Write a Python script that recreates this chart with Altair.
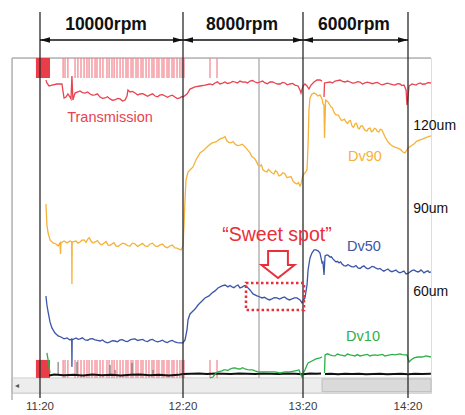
import altair as alt
import pandas as pd

# ---------------- axes / annotation values ----------------
TICK_T = [20, 80, 140, 200]                 # minutes after 11:00 -> 11:20 ... 14:20
TICK_LABELS = ["11:20", "12:20", "13:20", "14:20"]
X_DOMAIN = [8.25, 20, 80, 140, 200, 213.14]  # the recorder's time axis is not uniform
X_RANGE = [0, 28, 171, 291, 396, 419]
Y_DOMAIN = [24.7, 150.35]
GRID_UM = [60, 90, 120]
GRAY_GRID_T = [118]

RPM_LABELS = ["10000rpm", "8000rpm", "6000rpm"]
RPM_START = [20, 80, 140]
RPM_END = [80, 140, 200]
RPM_MID = [47.7, 109.5, 169.1]

SIZE_LABELS = ["120um", "90um", "60um"]
SIZE_LABEL_V = [125.0, 93.8, 62.4]

SERIES_NAMES = ["Transmission", "Dv90", "Dv50", "Dv10"]
SERIES_COLORS = ["#E8434F", "#F5B23A", "#3B55A8", "#2DB04A"]
SERIES_LABEL_T = [49.4, 175.4, 174.8, 174.3]
SERIES_LABEL_V = [127.85, 113.2, 79.5, 45.7]

# ---------------- series (t = minutes after 11:00, v = chart units / um) ----------------
trans_seg0 = [(22.5,142.1),(22.9,141.0),(23.8,139.85),(25.0,140.2),(27.1,140.6),(29.2,140.6),(29.7,137.6),
    (30.1,135.35),(30.9,135.7),(31.7,136.85),(32.6,135.7),(33.0,135.0),(33.4,143.6),(33.8,134.6),(34.7,137.2),
    (36.8,138.0),(38.9,137.2),(41.0,136.85),(43.1,136.5),(45.2,135.7),(47.3,135.35),(49.4,135.0),(51.5,134.6),
    (53.6,135.0),(55.7,134.6),(56.5,136.1),(56.9,138.35),(57.8,137.6),(59.9,137.2),(62.0,136.85),(64.1,136.5),
    (66.2,136.5),(68.3,136.1),(70.4,136.5),(72.5,136.1),(74.5,136.1),(76.6,135.7),(78.7,135.35),(80.0,135.7),
    (82.0,136.85),(83.5,138.7),(86.0,139.5),(88.5,139.85),(91.0,140.2),(93.5,140.6),(96.0,140.98),(98.5,140.6),
    (101.0,141.35),(103.5,140.98),(106.0,141.35),(108.5,141.7),(111.0,141.35),(113.5,141.7),(116.0,141.35),
    (118.5,141.35),(121.0,140.98),(123.5,141.35),(126.0,140.98),(128.5,140.6),(131.0,140.98),(133.5,140.6),
    (136.0,140.2),(137.5,139.85),(138.5,138.35),(139.0,137.2),(140.0,139.85),(141.1,140.6),(142.3,139.85),
    (143.4,138.7),(144.6,140.2),(146.3,141.35),(148.0,142.1),(149.7,142.1),(150.9,141.7),
    (37.8,137.4),(40.0,137.6),(42.0,136.4),(44.1,136.9),(46.2,135.2),(48.3,135.8),(50.4,134.5),(52.5,135.2),
    (54.6,134.2),(58.8,137.8),(61.0,136.5),(63.1,137.0),(65.1,136.0),(67.2,136.9),(69.3,135.8),(71.4,136.6),
    (73.5,135.6),(75.5,136.4),(77.6,135.1),(79.4,135.9),(94.8,140.3),(97.2,141.4),(99.8,140.9),(102.2,140.8),
    (104.8,141.6),(107.2,141.0),(109.8,141.3),(112.2,141.0),(114.8,141.9),(117.2,141.0),(119.8,141.7),
    (122.2,140.7),(124.8,141.4),(127.2,140.6),(129.8,141.2),(132.2,140.3),(134.8,140.8)]
trans_seg1 = [(152.0,135.7),(152.3,141.0),(155.4,141.35),(158.3,141.7),(161.1,142.1),(164.0,141.35),
    (166.9,141.35),(169.7,140.98),(172.6,141.35),(175.4,140.98),(178.3,140.98),(181.1,140.98),(184.0,140.6),
    (186.9,140.6),(189.7,140.6),(192.6,140.2),(195.4,140.6),(197.7,140.2),(198.9,138.35),(199.4,132.7),
    (200.0,135.7),(200.6,139.85),(202.3,140.6),(204.6,140.2),(206.9,140.98),(209.7,140.6),(213.1,140.98),
    (156.8,141.0),(159.7,141.9),(162.5,141.6),(165.4,141.7),(168.3,140.9),(171.1,141.5),(174.0,140.6),
    (176.8,141.3),(179.7,140.7),(182.5,141.2),(185.4,140.3),(188.3,140.9),(191.1,140.4),(194.0,140.7),
    (196.5,140.0),(205.7,140.7),(208.3,140.5),(211.4,141.1)]

dv90 = [(22.5,95.6),(22.9,87.7),(23.4,84.7),(24.2,82.1),(25.5,81.0),(26.7,80.6),(27.6,79.85),(28.4,81.0),
    (28.6,76.85),(28.8,81.0),(30.1,81.7),(31.3,81.0),(32.6,81.7),(33.3,81.35),(33.4,65.6),(33.5,81.35),
    (35.1,81.7),(36.8,81.35),(38.5,82.1),(40.1,82.5),(41.4,81.7),(43.1,81.35),(45.2,80.6),(46.9,81.0),
    (48.5,80.25),(50.2,80.6),(51.9,79.85),(53.6,80.25),(55.7,80.6),(57.8,79.85),(59.9,80.6),(62.0,80.25),
    (64.1,79.85),(66.2,80.6),(68.3,79.85),(70.4,80.25),(72.5,79.5),(74.5,79.85),(76.6,79.1),(78.3,78.7),
    (79.2,78.35),(80.0,79.85),(80.5,87.7),(81.0,97.1),(81.5,104.6),(82.5,107.6),(83.5,108.35),(85.0,109.5),
    (86.5,112.1),(88.5,114.75),(90.5,115.85),(92.5,117.35),(94.5,118.5),(96.5,118.85),(98.5,120.0),
    (100.0,120.35),(102.0,119.2),(104.0,118.5),(106.0,118.1),(108.5,117.7),(111.0,117.0),(113.5,114.75),
    (115.5,112.85),(117.0,111.0),(118.5,109.85),(120.0,108.35),(122.0,107.6),(123.5,108.0),(125.5,106.85),
    (127.0,107.6),(129.0,106.5),(131.0,106.85),(133.0,105.7),(135.0,104.2),(137.0,103.1),(138.5,102.35),
    (139.0,103.1),(140.0,106.5),(141.1,107.2),(142.3,108.35),(142.9,117.7),(143.4,130.85),(144.0,135.35),
    (145.1,136.85),(146.3,137.2),(147.4,136.85),(148.6,136.1),(149.7,136.5),(150.9,135.0),(151.4,133.1),
    (152.0,132.7),(152.3,120.35),(152.9,134.6),(154.3,133.85),(156.0,132.0),(157.7,130.1),(159.4,129.0),
    (161.1,127.85),(162.9,127.1),(164.6,126.35),(166.3,126.7),(168.0,124.85),(169.7,125.6),(171.4,124.1),
    (173.1,124.85),(174.9,123.7),(176.6,123.0),(178.3,124.1),(180.0,123.0),(181.7,123.7),(183.4,122.6),
    (185.1,123.35),(186.9,120.7),(188.6,118.85),(190.3,117.7),(192.0,117.0),(193.7,116.6),(195.4,116.2),
    (197.1,115.1),(198.3,114.75),(200.0,116.6),(201.7,117.35),(203.4,118.1),(205.1,119.2),(206.9,119.6),
    (208.6,120.0),(210.9,120.7),(213.1,121.1),
    (35.9,80.9),(37.6,82.0),(39.3,81.2),(40.7,82.9),(42.2,81.0),(44.1,81.9),(46.0,80.3),(47.7,81.5),
    (49.3,80.0),(51.0,81.1),(52.7,79.6),(54.6,80.9),(56.7,80.0),(58.8,80.9),(60.9,79.7),(63.0,80.8),
    (65.1,79.6),(67.2,80.9),(69.3,79.6),(71.4,80.6),(73.5,79.2),(75.5,80.2),(77.5,79.0),
    (101.0,120.9),(103.0,118.7),(105.0,119.0),(107.2,117.5),(109.7,118.0),(112.2,116.0),(114.5,113.3),
    (116.2,112.2),(117.7,110.0),(119.2,110.3),(121.0,107.9),(122.7,108.6),(124.5,107.2),(126.2,108.1),
    (128.0,106.1),(130.0,107.4),(132.0,105.5),(134.0,105.9),(136.0,103.5),(137.7,103.6),
    (155.1,133.0),(156.8,131.6),(158.5,129.2),(160.2,128.9),(162.0,126.9),(163.7,127.4),(165.5,125.8),
    (167.1,126.9),(168.8,124.3),(170.5,125.9),(172.2,123.8),(174.0,124.9),(175.7,123.1),(177.4,123.9),
    (179.1,122.7),(180.8,124.0),(182.5,122.8),(184.2,123.6)]

dv50 = [(22.5,61.1),(22.9,57.7),(23.4,55.1),(24.2,51.35),(25.0,49.1),(26.3,47.2),(27.6,46.1),(28.8,45.7),
    (30.1,45.0),(31.3,45.35),(32.6,44.6),(33.3,45.0),(33.4,34.5),(33.5,44.6),(35.1,45.35),(36.8,45.0),
    (38.9,44.6),(41.0,45.0),(43.1,44.6),(45.2,44.2),(47.3,43.85),(49.4,43.85),(51.5,44.2),(53.6,44.6),
    (55.7,44.2),(57.8,44.6),(59.9,45.0),(62.0,44.6),(64.1,44.2),(66.2,44.6),(68.3,44.2),(70.4,44.2),
    (72.5,43.85),(74.5,44.2),(76.6,43.85),(78.7,43.5),(80.0,43.5),(81.0,44.6),(82.0,48.35),(82.5,52.1),
    (83.5,54.35),(84.5,55.1),(86.0,56.2),(87.5,57.7),(89.0,58.85),(91.0,60.35),(93.0,61.1),(94.5,62.2),
    (96.0,63.0),(97.5,64.1),(99.5,64.85),(101.0,65.2),(102.5,64.5),(104.5,64.5),(106.5,64.85),(108.5,64.1),
    (110.5,64.85),(112.0,64.5),(113.5,63.35),(115.0,61.85),(117.0,61.1),(119.5,60.35),(122.0,60.0),
    (124.5,60.0),(127.0,60.35),(129.5,60.35),(132.0,60.0),(134.5,60.0),(137.0,60.35),(138.5,59.6),
    (139.5,58.5),(140.0,59.2),(141.1,60.35),(142.3,65.2),(142.9,70.85),(144.0,75.35),(145.1,77.2),
    (146.3,78.35),(147.4,78.35),(148.6,78.0),(149.7,77.2),(150.3,75.35),(150.9,73.5),(151.4,73.85),
    (152.0,69.0),(152.6,76.1),(153.7,76.5),(155.4,75.7),(157.1,75.0),(158.9,73.85),(160.6,73.5),
    (162.3,73.1),(164.6,72.35),(166.9,72.35),(169.1,72.0),(171.4,71.6),(173.7,72.0),(176.0,71.6),
    (178.3,71.6),(180.6,72.0),(182.9,71.2),(185.1,70.85),(187.4,70.85),(189.7,70.5),(192.0,70.5),
    (194.3,70.1),(196.6,70.1),(198.9,69.35),(201.1,70.1),(203.4,70.85),(205.7,70.1),(207.4,70.85),
    (209.1,69.75),(211.4,70.5),(213.1,70.1),
    (36.0,44.8),(37.8,45.4),(40.0,44.5),(42.0,45.1),(44.1,44.4),(46.2,44.6),(48.3,43.5),(50.4,44.3),
    (52.5,43.9),(54.6,44.7),(56.7,44.0),(58.8,44.9),(61.0,44.4),(63.1,44.8),(65.1,44.0),(67.2,44.8),
    (69.3,43.9),(71.4,44.5),(73.5,43.6),(75.5,44.4),(77.6,43.6),
    (103.5,65.0),(105.5,64.2),(107.5,65.2),(109.5,64.4),(111.2,65.0),(118.2,60.8),(120.7,60.6),
    (123.2,59.6),(125.7,60.5),(128.2,59.9),(130.7,60.7),(133.2,59.6),(135.7,60.4),
    (154.5,76.3),(156.2,75.8),(158.0,74.4),(159.7,74.1),(161.5,73.9),(163.4,72.5),(165.7,72.9),
    (168.0,72.0),(170.3,72.5),(172.6,71.4),(174.8,72.4),(177.1,71.3),(179.4,72.2),(181.7,71.5),
    (184.0,71.4),(186.2,70.4),(188.5,71.2),(190.8,70.2),(193.1,70.8),(195.4,69.8),(197.7,70.4),
    (200.0,69.6),(202.2,70.6),(204.5,70.4),(206.5,70.3),(208.2,70.4),(210.2,70.2),(212.2,69.9)]

dv10_seg0 = [(22.9,39.75),(23.4,37.1),(24.2,32.2)]
dv10_seg1 = [(93.5,30.35),(95.0,30.7),(96.5,32.2),(97.5,32.6),(99.5,33.0),(101.5,33.35),(103.5,33.7),
    (106.0,34.1),(108.5,33.7),(111.0,33.7),(113.5,33.35),(116.0,33.0),(118.5,32.6),(121.0,32.6),
    (123.5,32.6),(126.0,32.6),(128.5,32.2),(131.0,32.6),(133.5,32.6),(136.0,33.0),(138.0,33.35),
    (139.0,31.5),(139.5,30.7),(140.0,31.85),(141.1,33.35),(142.3,35.2),(142.9,35.95),(145.1,36.7),
    (147.4,37.5),(149.7,37.85),(150.9,38.2),
    (100.5,33.4),(102.5,33.1),(104.8,34.0),(107.2,33.8),(109.8,34.2),(112.2,33.5),(114.8,33.4),(117.2,32.7)]
dv10_seg2 = [(152.3,32.2),(152.6,39.0),(155.4,39.0),(158.3,38.6),(161.1,39.0),(164.0,38.6),(166.9,39.0),
    (169.7,38.6),(172.6,38.6),(175.4,39.0),(178.3,38.6),(181.1,39.0),(184.0,39.0),(186.9,38.6),(189.7,39.0),
    (192.6,39.0),(195.4,39.35),(198.3,39.0),(199.4,39.0),(200.6,36.35),(201.7,37.1),(203.4,37.85),
    (205.7,38.2),(208.0,38.2),(210.3,38.6),(213.1,38.2),
    (154.0,39.4),(156.8,38.7),(159.7,39.3),(162.5,38.8),(165.4,39.3),(168.3,38.8),(171.1,39.1),(174.0,38.8),
    (176.8,39.2),(179.7,38.9),(182.5,38.8),(185.4,39.2),(188.3,38.8),(191.1,39.2),(194.0,39.2),(196.8,39.1)]

base_seg0 = [(23.8,31.3),(26,31.6),(30,31.4),(34,31.5),(38,31.3),(42,31.6),(46,31.4),(50,31.5),(54,31.3),
    (58,31.5),(62,31.6),(66,31.4),(70,31.5),(74,31.3),(78,31.5),(80,31.8),(84,31.9),(88,32.0),(92,31.8),
    (96,32.0),(100,31.9),(104,31.8),(108,32.0),(112,31.9),(116,31.8),(120,32.0),(124,31.9),(128,31.8),
    (132,32.0),(136,31.9),(140,31.7),(144,32.0),(148,31.9),(150.3,32.0)]
base_seg1 = [(152.6,31.8),(156,31.9),(160,31.7),(164,31.9),(168,31.8),(172,31.9),(176,31.7),(180,31.8),
    (184,31.9),(188,31.7),(192,31.8),(196,31.9),(200,31.7),(204,31.9),(208,31.8),(213.1,31.9)]
base_spike_t = [27.6, 35.5, 49.4, 51.5, 58.6, 67.4]
base_spike_top = [36.35, 36.35, 35.2, 33.35, 36.0, 33.35]

event_t = [29.7, 30.5, 31.7, 34.7, 35.9, 37.2, 38.5, 39.7, 40.6, 41.8, 43.1, 43.9, 45.2, 46.4, 48.1, 49.0,
    50.2, 51.1, 52.3, 53.6, 54.8, 56.1, 56.9, 58.2, 59.0, 60.3, 61.1, 62.4, 63.2, 64.5, 65.7, 67.0, 67.8,
    69.1, 69.9, 71.2, 72.0, 73.3, 74.1, 75.4, 76.2, 77.5, 78.7, 79.6, 80.5, 93.5, 97.0]
event_block = (18.3, 24.2)


def frame(segs):
    rows = []
    i = 0
    for s, seg in enumerate(segs):
        for t, v in sorted(seg):
            rows.append({"t": t, "v": v, "seg": s, "i": i})
            i += 1
    return pd.DataFrame(rows)


xs = alt.Scale(domain=X_DOMAIN, range=X_RANGE)
ys = alt.Scale(domain=Y_DOMAIN, nice=False, zero=False)
FONT = "Liberation Sans"


def X(field="t", axis=None):
    return alt.X(f"{field}:Q", scale=xs, axis=axis)


def Y(field="v", axis=None):
    return alt.Y(f"{field}:Q", scale=ys, axis=axis)


def YD(val):
    return alt.Y(datum=val, scale=ys)


y_axis = alt.Axis(values=GRID_UM, grid=True, gridColor="#b5b5b5", gridWidth=1.5, labels=False,
                  ticks=False, domain=False, title=None)

layers = []

# scrollbar
sb = pd.DataFrame({"t1": [X_DOMAIN[0]], "t2": [X_DOMAIN[-1]], "v1": [Y_DOMAIN[0]], "v2": [30.35]})
layers.append(alt.Chart(sb).mark_rect(fill="#ededed", stroke="#cfcfcf", strokeWidth=1).encode(
    x=X("t1"), x2="t2:Q", y=Y("v1", axis=y_axis), y2="v2:Q"))
thumb = pd.DataFrame({"t1": [150.9], "t2": [213.14], "v1": [25.2], "v2": [30.0]})
layers.append(alt.Chart(thumb).mark_rect(fill="#dadada", stroke="#bdbdbd", strokeWidth=1).encode(
    x=X("t1"), x2="t2:Q", y=Y("v1"), y2="v2:Q"))
layers.append(alt.Chart(pd.DataFrame({"t": [10.3], "v": [27.5], "s": ["◂"]})).mark_text(
    fontSize=8, color="#555").encode(x=X(), y=Y(), text="s:N"))

# frame top & left
layers.append(alt.Chart(pd.DataFrame({"t1": [X_DOMAIN[0]], "t2": [X_DOMAIN[-1]], "v": [Y_DOMAIN[1]]}))
              .mark_rule(color="#b5b5b5", strokeWidth=1.5).encode(x=X("t1"), x2="t2:Q", y=Y()))
layers.append(alt.Chart(pd.DataFrame({"t": [X_DOMAIN[0]], "v1": [Y_DOMAIN[1]], "v2": [22.1]}))
              .mark_rule(color="#b5b5b5", strokeWidth=1.5).encode(x=X(), y=Y("v1"), y2="v2:Q"))

# light vertical grid line
layers.append(alt.Chart(pd.DataFrame({"t": GRAY_GRID_T})).mark_rule(color="#b5b5b5", strokeWidth=1.5)
              .encode(x=X(), y=YD(Y_DOMAIN[1]), y2=alt.Y2(datum=30.35)))

# event bars (top and bottom)
ev = pd.DataFrame({"t": event_t})
for top, bot in [(150.35, 142.85), (37.1, 30.35)]:
    layers.append(alt.Chart(ev).mark_rule(color="#F28A93", strokeWidth=1.5, opacity=0.85)
                  .encode(x=X(), y=YD(top), y2=alt.Y2(datum=bot)))
    layers.append(alt.Chart(pd.DataFrame({"t1": [event_block[0]], "t2": [event_block[1]]}))
                  .mark_rect(color="#E8343F", opacity=0.95)
                  .encode(x=X("t1"), x2="t2:Q", y=YD(top), y2=alt.Y2(datum=bot)))

# baseline (black) and its spikes
layers.append(alt.Chart(pd.DataFrame({"t": base_spike_t, "top": base_spike_top}))
              .mark_rule(color="#666", strokeWidth=1).encode(x=X(), y=Y("top"), y2=alt.Y2(datum=31.5)))
layers.append(alt.Chart(frame([base_seg0, base_seg1])).mark_line(color="#111", strokeWidth=2)
              .encode(x=X(), y=Y(), detail="seg:N", order="i:Q"))


def line(df, color, w=1.3):
    return alt.Chart(df).mark_line(color=color, strokeWidth=w).encode(
        x=X(), y=Y(), detail="seg:N", order="i:Q")


layers.append(line(frame([trans_seg0, trans_seg1]), SERIES_COLORS[0]))
layers.append(line(frame([dv90]), SERIES_COLORS[1]))
layers.append(line(frame([dv50]), SERIES_COLORS[2]))
layers.append(line(frame([dv10_seg0, dv10_seg1, dv10_seg2]), SERIES_COLORS[3]))

# dark vertical lines (rpm boundaries)
layers.append(alt.Chart(pd.DataFrame({"t": TICK_T})).mark_rule(color="#2a2a2a", strokeWidth=1.3)
              .encode(x=X(), y=YD(167.6), y2=alt.Y2(datum=22.85)))

# time tick labels (below the plot frame)
layers.append(alt.Chart(pd.DataFrame({"t": TICK_T, "s": TICK_LABELS}))
              .mark_text(font=FONT, fontSize=11.5, color="#3a3a3a", baseline="middle", dy=14)
              .encode(x=X(), y=YD(Y_DOMAIN[0]), text="s:N"))
# sweet spot annotation
layers.append(alt.Chart(pd.DataFrame({"t1": [111.5], "t2": [140.6], "v1": [65.97], "v2": [55.85]}))
              .mark_rect(fill="transparent", stroke="#E8303A", strokeWidth=2.5, strokeDash=[2.5, 2.5])
              .encode(x=X("t1"), x2="t2:Q", y=Y("v1"), y2="v2:Q"))
arrow_path = "M-0.6,-0.82L0.6,-0.82L0.6,0.03L1,0.03L0,0.82L-1,0.03L-0.6,0.03Z"
layers.append(alt.Chart(pd.DataFrame({"t": [127.5], "v": [72.9]}))
              .mark_point(shape=arrow_path, size=1089, filled=True, fill="white", stroke="#E8303A",
                          strokeWidth=2, opacity=1)
              .encode(x=X(), y=Y()))
layers.append(alt.Chart(pd.DataFrame({"t": [127.0], "v": [84.0], "s": ["\u201cSweet spot\u201d"]}))
              .mark_text(font=FONT, fontSize=19.5, color="#E8303A")
              .encode(x=X(), y=Y(), text="s:N"))

# series labels
lab = pd.DataFrame({"t": SERIES_LABEL_T, "v": SERIES_LABEL_V, "s": SERIES_NAMES, "c": SERIES_COLORS})
layers.append(alt.Chart(lab).mark_text(font=FONT, fontSize=14.5)
              .encode(x=X(), y=Y(), text="s:N", color=alt.Color("c:N", scale=None)))

# size labels
sl = pd.DataFrame({"t": [203] * 3, "v": SIZE_LABEL_V, "s": SIZE_LABELS})
layers.append(alt.Chart(sl).mark_text(font=FONT, fontSize=14, align="left", color="#111")
              .encode(x=X(), y=Y(), text="s:N"))

# rpm header
rpm = pd.DataFrame({"t1": RPM_START, "t2": RPM_END, "mid": RPM_MID, "s": RPM_LABELS})
layers.append(alt.Chart(rpm).mark_rule(color="#111", strokeWidth=1.3)
              .encode(x=X("t1"), x2="t2:Q", y=YD(157.1)))
layers.append(alt.Chart(rpm).mark_point(shape="M-1,0L1,-0.55L1,0.55Z", size=100, filled=True,
                                        color="#111", opacity=1, xOffset=5)
              .encode(x=X("t1"), y=YD(157.1)))
layers.append(alt.Chart(rpm).mark_point(shape="M1,0L-1,-0.55L-1,0.55Z", size=100, filled=True,
                                        color="#111", opacity=1, xOffset=-5)
              .encode(x=X("t2"), y=YD(157.1)))
layers.append(alt.Chart(rpm).mark_text(font=FONT, fontSize=17.5, fontWeight="bold", color="#111")
              .encode(x=X("mid"), y=YD(162.7), text="s:N"))

chart = alt.layer(*layers).properties(
    width=419, height=335,
    autosize=alt.AutoSizeParams(type="none"),
    padding={"left": 4, "top": 50, "right": 26, "bottom": 21},
).configure_view(stroke=None).configure(background="white")

chart.save("out.html", embed_options={"renderer": "svg", "actions": False})
